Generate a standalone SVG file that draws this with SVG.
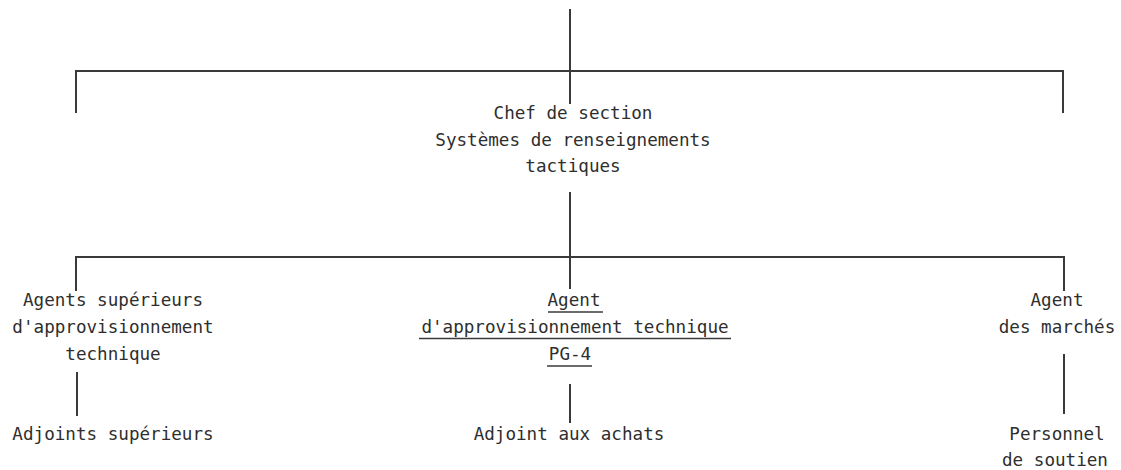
<svg xmlns="http://www.w3.org/2000/svg" width="1121" height="470" viewBox="0 0 1121 470">
  <style>
    .bg { fill: #ffffff; }
    .ln { stroke: #3a3a3a; stroke-width: 2; fill: none; stroke-linecap: square; }
    .ul { stroke: #3a3a3a; stroke-width: 1.6; fill: none; }
    .t { font-family: "DejaVu Sans Mono", "Liberation Mono", monospace; font-size: 17.6px; fill: #2e2e2e; text-anchor: middle; }
  </style>
  <rect class="bg" x="0" y="0" width="1121" height="470"/>

  <!-- connectors -->
  <g id="connectors">
    <line class="ln" x1="570" y1="10" x2="570" y2="103"/>
    <polyline class="ln" points="76,112 76,71 1063,71 1063,112"/>
    <line class="ln" x1="570" y1="193" x2="570" y2="257"/>
    <polyline class="ln" points="76,290 76,257 1064,257 1064,290"/>
    <line class="ln" x1="570" y1="257" x2="570" y2="288"/>
    <line class="ln" x1="77" y1="373" x2="77" y2="415"/>
    <line class="ln" x1="570" y1="385" x2="570" y2="422"/>
    <line class="ln" x1="1064" y1="355" x2="1064" y2="413"/>
  </g>

  <!-- section head -->
  <g id="chef">
    <text class="t" x="573" y="119">Chef de section</text>
    <text class="t" x="573" y="146">Systèmes de renseignements</text>
    <text class="t" x="573" y="172">tactiques</text>
  </g>

  <g id="agents-superieurs">
    <text class="t" x="113" y="306">Agents supérieurs</text>
    <text class="t" x="113" y="333">d'approvisionnement</text>
    <text class="t" x="113" y="360">technique</text>
  </g>

  <g id="agent-pg4">
    <text class="t" x="574" y="306">Agent</text>
    <line class="ul" x1="548" y1="312" x2="603" y2="312"/>
    <text class="t" x="575" y="333">d'approvisionnement technique</text>
    <line class="ul" x1="419" y1="338.5" x2="731" y2="338.5"/>
    <text class="t" x="570" y="360">PG-4</text>
    <line class="ul" x1="547" y1="366" x2="592" y2="366"/>
  </g>

  <g id="agent-marches">
    <text class="t" x="1057" y="306">Agent</text>
    <text class="t" x="1057" y="333">des marchés</text>
  </g>

  <g id="adjoints-superieurs">
    <text class="t" x="113" y="440">Adjoints supérieurs</text>
  </g>

  <g id="adjoint-achats">
    <text class="t" x="569" y="440">Adjoint aux achats</text>
  </g>

  <g id="personnel-soutien">
    <text class="t" x="1057" y="440">Personnel</text>
    <text class="t" x="1055" y="466">de soutien</text>
  </g>
</svg>
